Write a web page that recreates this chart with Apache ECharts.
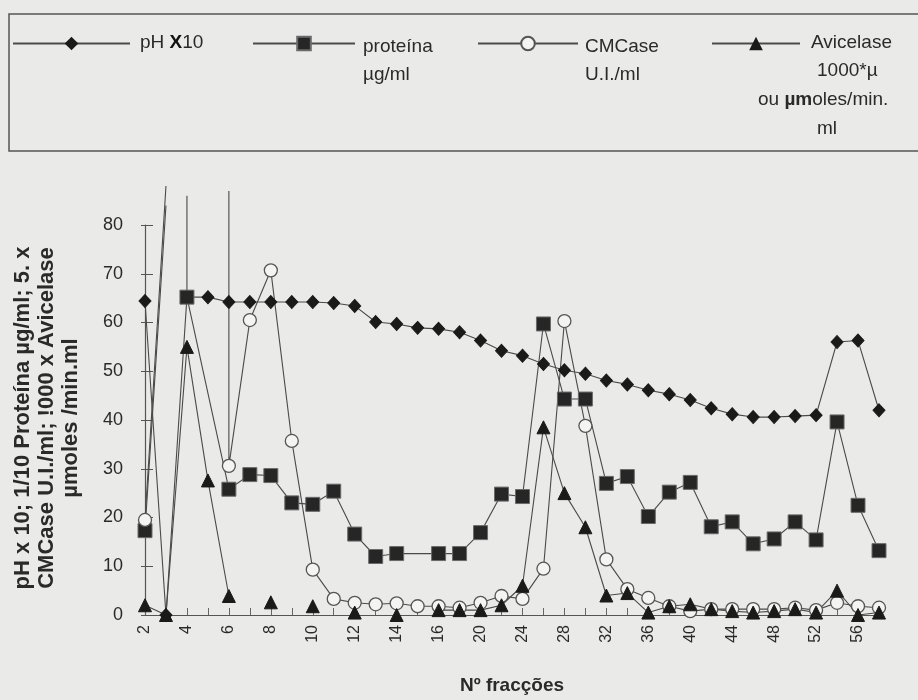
<!DOCTYPE html>
<html>
<head>
<meta charset="utf-8">
<script src="https://cdn.jsdelivr.net/npm/echarts@6/dist/echarts.min.js"></script>
<style>
  html, body { margin: 0; padding: 0; background: #eaeae8; }
  #chart { width: 918px; height: 700px; }
</style>
</head>
<body>
<div id="chart"></div>
<script>
// Fractions collected from the column (category axis)
const fractions = ['2','3','4','5','6','7','8','9','10','11','12','13','14','15','16',
  '18','20','22','24','26','28','30','32','34','36','38','40','42','44','46','48','50','52','54','56','58'];
const xTickLabels = ['2','4','6','8','10','12','14','16','20','24','28','32','36','40','44','48','52','56'];
const yTicks = [0, 10, 20, 30, 40, 50, 60, 70, 80];

// pH x 10, one value per fraction
const ph = [64.4, 0, 65.2, 65.2, 64.2, 64.2, 64.2, 64.2, 64.2, 64.0, 63.4, 60.1, 59.7, 58.9, 58.7,
  58.0, 56.3, 54.2, 53.2, 51.5, 50.2, 49.5, 48.1, 47.3, 46.1, 45.3, 44.1, 42.4, 41.2, 40.6, 40.6,
  40.8, 41.0, 56.0, 56.3, 42.0];

// Avicelase (null = fraction not assayed)
const avicelase = [2, 0, 55, 27.6, 3.9, null, 2.6, null, 1.8, null, 0.5, null, 0, null, 1,
  1, 1, 2, 6, 38.5, 25, 18, 4, 4.5, 0.5, 1.8, 2.2, 1.2, 0.8, 0.5, 0.8, 1.2, 0.5, 5, 0, 0.5];

// Protein (1/10 µg/ml): continuous runs of [fraction, value]; values above the axis leave the plot
const proteinRuns = [
  [['2', 17.3], ['3', 84]],
  [['4', 86], ['4', 65.2], ['6', 25.8], ['7', 28.8], ['8', 28.6], ['9', 23.0], ['10', 22.7],
   ['11', 25.4], ['12', 16.6], ['13', 12.0], ['14', 12.6], ['16', 12.6], ['18', 12.6], ['20', 16.9],
   ['22', 24.8], ['24', 24.3], ['26', 59.7], ['28', 44.3], ['30', 44.3], ['32', 27.0], ['34', 28.4],
   ['36', 20.2], ['38', 25.2], ['40', 27.2], ['42', 18.1], ['44', 19.1], ['46', 14.6], ['48', 15.6],
   ['50', 19.1], ['52', 15.4], ['54', 39.6], ['56', 22.5], ['58', 13.2]]
];

// CMCase (5 x U.I./ml)
const cmcaseRuns = [
  [['2', 19.5], ['3', 88]],
  [['6', 87], ['6', 30.6], ['7', 60.5], ['8', 70.7], ['9', 35.7], ['10', 9.3], ['11', 3.3],
   ['12', 2.5], ['13', 2.2], ['14', 2.4], ['15', 1.8], ['16', 1.8], ['18', 1.5], ['20', 2.5],
   ['22', 3.9], ['24', 3.3], ['26', 9.5], ['28', 60.3], ['30', 38.8], ['32', 11.4], ['34', 5.3],
   ['36', 3.5], ['38', 1.8], ['40', 0.8], ['42', 1.2], ['44', 1.2], ['46', 1.2], ['48', 1.2],
   ['50', 1.5], ['52', 1.0], ['54', 2.5], ['56', 1.8], ['58', 1.5]]
];

const Y_MAX = 80;
const FONT = '"Liberation Sans", Arial, sans-serif';
const LINE = '#4a4a4a';

function seriesFromArray(values) {
  return values.map((v, i) => [i, v]);
}
function seriesFromRuns(runs) {
  const out = [];
  runs.forEach((run, k) => {
    if (k > 0) out.push({ value: [fractions.indexOf(run[0][0]), null] });
    run.forEach(([f, v]) => {
      const item = { value: [fractions.indexOf(f), v] };
      if (v > Y_MAX) item.symbol = 'none';
      out.push(item);
    });
  });
  return out;
}

const baseLine = {
  type: 'line', connectNulls: false, clip: false, showAllSymbol: true,
  lineStyle: { color: LINE, width: 1.1 }
};

const legendBase = { padding: 0, itemHeight: 17, top: 35, formatter: () => '' };

const chart = echarts.init(document.getElementById('chart'), null, { renderer: 'canvas' });
chart.setOption({
  backgroundColor: '#eaeae8',
  animation: false,
  grid: { left: 145, right: 39, top: 225, bottom: 81 },
  xAxis: {
    type: 'category',
    data: fractions,
    boundaryGap: false,
    name: 'Nº fracções',
    nameLocation: 'middle',
    nameGap: 61,
    nameTextStyle: { fontFamily: FONT, fontSize: 19, fontWeight: 'bold', color: '#2a2a2a' },
    axisLine: { lineStyle: { color: '#555', width: 1.2 } },
    axisTick: { show: true, inside: true, length: 7, interval: 0, lineStyle: { color: '#666' } },
    axisLabel: {
      interval: (idx, val) => xTickLabels.includes(val),
      rotate: 90, margin: 10,
      fontFamily: FONT, fontSize: 16, color: '#2a2a2a'
    },
    splitLine: { show: false }
  },
  yAxis: [{
    type: 'value', min: 0, max: Y_MAX, interval: 10, position: 'left',
    axisLine: { show: true, lineStyle: { color: '#555', width: 1.2 } },
    axisTick: { show: true, inside: true, length: 8, lineStyle: { color: '#555' } },
    axisLabel: {
      margin: 22, fontFamily: FONT, fontSize: 18, color: '#2a2a2a',
      formatter: v => (yTicks.includes(v) ? String(v) : '')
    },
    splitLine: { show: false }
  }, {
    type: 'value', min: 0, max: Y_MAX, interval: 10, position: 'left', offset: 0,
    axisLine: { show: false },
    axisTick: { show: true, inside: false, length: 4, lineStyle: { color: '#555' } },
    axisLabel: { show: false },
    splitLine: { show: false }
  }],
  legend: [
    Object.assign({ data: ['pH'], left: 12, itemWidth: 117 }, legendBase),
    Object.assign({ data: ['proteína'], left: 252, itemWidth: 102 }, legendBase),
    Object.assign({ data: ['CMCase'], left: 477, itemWidth: 100 }, legendBase),
    Object.assign({ data: ['Avicelase'], left: 711, itemWidth: 88 }, legendBase)
  ],
  graphic: [
    { type: 'rect', shape: { x: 9, y: 14, width: 940, height: 137 }, style: { fill: 'none', stroke: '#555', lineWidth: 1.5 }, silent: true },
    { type: 'text', left: 140, top: 33, style: { text: '{n|pH }{b|X}{n|10}', rich: {
        n: { fontFamily: FONT, fontSize: 19, fill: '#2a2a2a' },
        b: { fontFamily: FONT, fontSize: 19, fontWeight: 'bold', fill: '#111' } } } },
    { type: 'text', left: 363, top: 33, style: { text: 'proteína\nµg/ml', fontFamily: FONT, fontSize: 19, lineHeight: 28, fill: '#2a2a2a' } },
    { type: 'text', left: 585, top: 33, style: { text: 'CMCase\nU.I./ml', fontFamily: FONT, fontSize: 19, lineHeight: 28, fill: '#2a2a2a' } },
    { type: 'text', left: 811, top: 33, style: { text: 'Avicelase', fontFamily: FONT, fontSize: 19, fill: '#2a2a2a' } },
    { type: 'text', left: 817, top: 61, style: { text: '1000*µ', fontFamily: FONT, fontSize: 19, fill: '#2a2a2a' } },
    { type: 'text', left: 758, top: 90, style: { text: '{n|ou }{b|µm}{n|oles/min.}', rich: {
        n: { fontFamily: FONT, fontSize: 19, fill: '#2a2a2a' },
        b: { fontFamily: FONT, fontSize: 19, fontWeight: 'bold', fill: '#2a2a2a' } } } },
    { type: 'text', left: 817, top: 119, style: { text: 'ml', fontFamily: FONT, fontSize: 19, fill: '#2a2a2a' } },
    { type: 'text', x: 47, y: 418, rotation: Math.PI / 2,
      style: { text: 'pH x 10; 1/10 Proteína µg/ml; 5. x\nCMCase U.I./ml; !000 x Avicelase\nµmoles /min.ml',
        fontFamily: FONT, fontSize: 22, fontWeight: 'bold', lineHeight: 24, fill: '#2a2a2a',
        align: 'center', verticalAlign: 'middle' } }
  ],
  series: [
    Object.assign({}, baseLine, {
      name: 'pH', data: seriesFromArray(ph),
      symbol: 'diamond', symbolSize: [12, 13],
      itemStyle: { color: '#1a1a1a', borderColor: '#1a1a1a' }
    }),
    Object.assign({}, baseLine, {
      name: 'proteína', data: seriesFromRuns(proteinRuns),
      symbol: 'rect', symbolSize: 14,
      itemStyle: { color: '#262626', borderColor: '#6a6a6a', borderWidth: 1 }
    }),
    Object.assign({}, baseLine, {
      name: 'CMCase', data: seriesFromRuns(cmcaseRuns),
      symbol: 'circle', symbolSize: 13,
      itemStyle: { color: '#f4f4f2', borderColor: '#555', borderWidth: 1.3 }
    }),
    Object.assign({}, baseLine, {
      name: 'Avicelase', data: seriesFromArray(avicelase),
      symbol: 'triangle', symbolSize: 13,
      itemStyle: { color: '#1a1a1a', borderColor: '#1a1a1a' }
    })
  ]
});
</script>
</body>
</html>
